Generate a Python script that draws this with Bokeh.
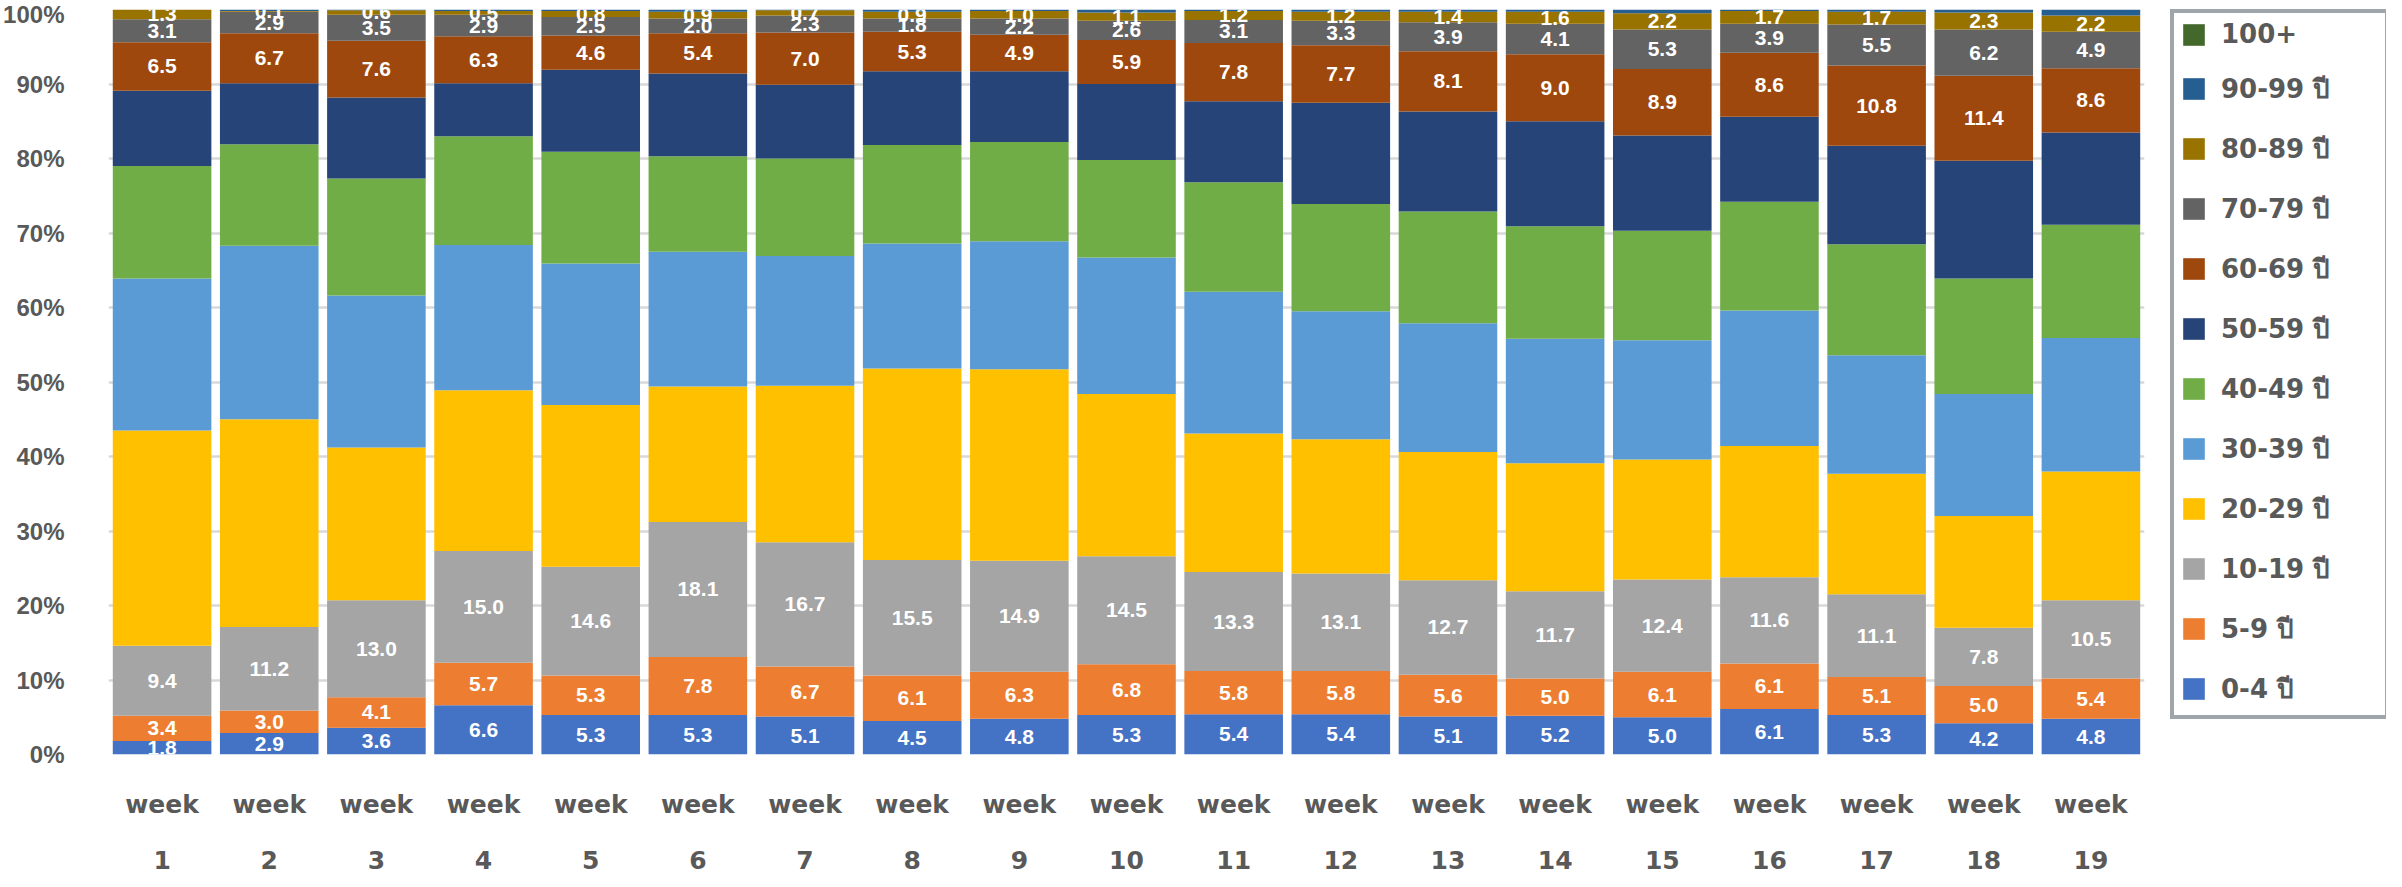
from bokeh.plotting import figure
from bokeh.layouts import row
from bokeh.models import (ColumnDataSource, Legend, LegendItem, FactorRange, Range1d,
                          FixedTicker, PrintfTickFormatter)
from bokeh.core.properties import value
from bokeh.embed import file_html
from bokeh.resources import INLINE

week_nums = [str(i) for i in range(1, 20)]
week_word = "week"
weeks = [(n, week_word) for n in week_nums]

age_groups = ["0-4 ปี", "5-9 ปี", "10-19 ปี", "20-29 ปี", "30-39 ปี", "40-49 ปี",
              "50-59 ปี", "60-69 ปี", "70-79 ปี", "80-89 ปี", "90-99 ปี", "100+"]

a0_4 = [1.8, 2.9, 3.6, 6.6, 5.3, 5.3, 5.1, 4.5, 4.8, 5.3, 5.4, 5.4, 5.1, 5.2, 5.0, 6.1, 5.3, 4.2, 4.8]
a5_9 = [3.4, 3.0, 4.1, 5.7, 5.3, 7.8, 6.7, 6.1, 6.3, 6.8, 5.8, 5.8, 5.6, 5.0, 6.1, 6.1, 5.1, 5.0, 5.4]
a10_19 = [9.4, 11.2, 13.0, 15.0, 14.6, 18.1, 16.7, 15.5, 14.9, 14.5, 13.3, 13.1, 12.7, 11.7, 12.4, 11.6, 11.1, 7.8, 10.5]
a20_29 = [28.9, 27.9, 20.5, 21.6, 21.7, 18.2, 21.0, 25.7, 25.7, 21.8, 18.6, 18.0, 17.2, 17.2, 16.1, 17.6, 16.2, 15.0, 17.3]
a30_39 = [20.4, 23.3, 20.4, 19.5, 19.0, 18.1, 17.4, 16.8, 17.2, 18.3, 19.0, 17.2, 17.3, 16.7, 16.0, 18.2, 15.9, 16.4, 17.9]
a40_49 = [15.1, 13.6, 15.7, 14.6, 15.0, 12.8, 13.1, 13.2, 13.3, 13.1, 14.7, 14.4, 15.0, 15.1, 14.7, 14.6, 14.9, 15.5, 15.2]
a50_59 = [10.1, 8.2, 10.9, 7.1, 11.0, 11.1, 9.9, 9.9, 9.5, 10.2, 10.9, 13.6, 13.4, 14.1, 12.8, 11.4, 13.2, 15.8, 12.4]
a60_69 = [6.5, 6.7, 7.6, 6.3, 4.6, 5.4, 7.0, 5.3, 4.9, 5.9, 7.8, 7.7, 8.1, 9.0, 8.9, 8.6, 10.8, 11.4, 8.6]
a70_79 = [3.1, 2.9, 3.5, 2.9, 2.5, 2.0, 2.3, 1.8, 2.2, 2.6, 3.1, 3.3, 3.9, 4.1, 5.3, 3.9, 5.5, 6.2, 4.9]
a80_89 = [1.3, 0.1, 0.6, 0.5, 0.8, 0.9, 0.7, 0.9, 1.0, 1.1, 1.2, 1.2, 1.4, 1.6, 2.2, 1.7, 1.7, 2.3, 2.2]
a90_99 = [0.0, 0.2, 0.1, 0.2, 0.2, 0.3, 0.1, 0.3, 0.2, 0.4, 0.2, 0.3, 0.3, 0.3, 0.5, 0.2, 0.3, 0.4, 0.8]
a100 = [0.0, 0.0, 0.0, 0.0, 0.0, 0.0, 0.0, 0.0, 0.0, 0.0, 0.0, 0.0, 0.0, 0.0, 0.0, 0.0, 0.0, 0.0, 0.0]

series = [a0_4, a5_9, a10_19, a20_29, a30_39, a40_49, a50_59, a60_69, a70_79, a80_89, a90_99, a100]
colors = ["#4472C4", "#ED7D31", "#A5A5A5", "#FFC000", "#5B9BD5", "#70AD47",
          "#264478", "#9E480E", "#636363", "#997300", "#255E91", "#43682B"]
labelled = [0, 1, 2, 7, 8, 9]

keys = [f"s{i}" for i in range(len(series))]
data = {"week": weeks}
for k, s in zip(keys, series):
    data[k] = s
source = ColumnDataSource(data)

p = figure(x_range=FactorRange(*weeks, range_padding=0, group_padding=0, subgroup_padding=0),
           y_range=Range1d(0, 100),
           width=2170, height=871,
           min_border_left=103, min_border_right=26, min_border_top=9, min_border_bottom=0,
           output_backend="svg", toolbar_location=None)
p.outline_line_color = None
p.background_fill_color = "white"

renderers = p.vbar_stack(keys, x="week", width=0.92, color=colors, source=source, line_color=None)

# value labels
lx, ly, lt = [], [], []
for i, s in enumerate(series):
    if i not in labelled:
        continue
    for j, v in enumerate(s):
        bottom = sum(series[k][j] for k in range(i))
        lx.append(weeks[j])
        ly.append(bottom + v / 2)
        lt.append(f"{v:.1f}")
p.text(x=lx, y=ly, text=lt, text_align="center", text_baseline="middle",
       text_color="white", text_font=value("Liberation Sans"), text_font_size="21px",
       text_font_style="bold")

# axes
p.xgrid.grid_line_color = None
p.ygrid.grid_line_color = "#d9d9d9"
p.ygrid.grid_line_width = 2.5
p.ygrid.ticker = FixedTicker(ticks=[0, 10, 20, 30, 40, 50, 60, 70, 80, 90, 100])
p.yaxis.ticker = FixedTicker(ticks=[0, 10, 20, 30, 40, 50, 60, 70, 80, 90, 100])
p.yaxis.formatter = PrintfTickFormatter(format="%d%%")

for ax in (p.xaxis[0], p.yaxis[0]):
    ax.axis_line_color = None
    ax.major_tick_line_color = None
    ax.minor_tick_line_color = None
    ax.major_label_text_font_style = "bold"
    ax.major_label_text_color = "#595959"
p.yaxis.major_label_text_font = "Liberation Sans"
p.yaxis.major_label_text_font_size = "24px"
p.yaxis.major_label_standoff = 38

xa = p.xaxis[0]
xa.major_label_text_font = "DejaVu Sans"
xa.major_label_text_font_size = "25px"
xa.major_label_text_line_height = 1.0
xa.major_label_standoff = 29
xa.group_text_font = "DejaVu Sans"
xa.group_text_font_size = "25px"
xa.group_text_line_height = 1.0
xa.group_text_font_style = "bold"
xa.group_text_color = "#595959"
xa.separator_line_color = None

# legend in a side figure
q = figure(width=216, height=871, x_range=Range1d(0, 1), y_range=Range1d(0, 1),
           min_border=0, x_axis_location=None, y_axis_location=None,
           output_backend="svg", toolbar_location=None)
q.outline_line_color = None
q.grid.visible = False
dummy = [q.vbar(x=[5], top=[5], bottom=[4], width=0.5, color=c, line_color=None) for c in colors]

items = [LegendItem(label=age_groups[i], renderers=[dummy[i]]) for i in range(len(series) - 1, -1, -1)]
legend = Legend(items=items, location="top_left", orientation="vertical", margin=0,
                border_line_color="#3e4e58", border_line_width=4, padding=6, spacing=19,
                glyph_width=27, glyph_height=27, label_height=27, label_width=158,
                label_standoff=14,
                label_text_font="DejaVu Sans", label_text_font_size="26px",
                label_text_font_style="bold", label_text_color="#595959",
                background_fill_color="white", background_fill_alpha=1.0)
q.add_layout(legend)

layout = row(p, q, spacing=0)
open("out.html", "w").write(file_html(layout, INLINE))
